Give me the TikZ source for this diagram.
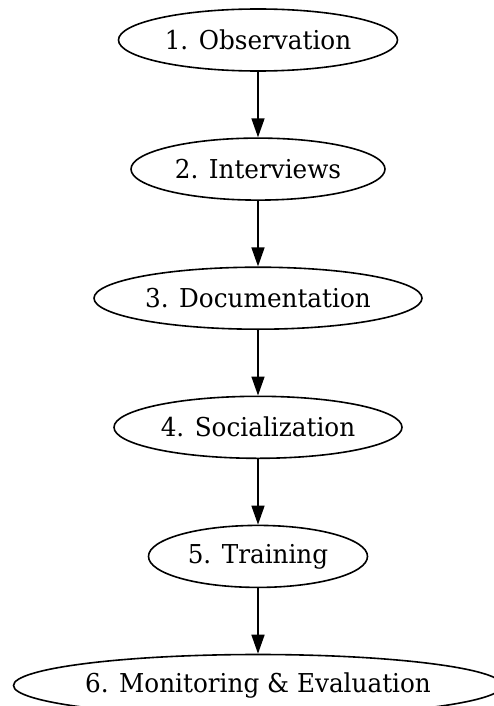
\documentclass[tikz,border=0pt]{standalone}
\usepackage{fontspec}
\setmainfont{DejaVu Serif}[FakeStretch=0.95]
\usetikzlibrary{arrows.meta, positioning, shapes.geometric}

\begin{document}
\begin{tikzpicture}[
        x=1pt, y=-1pt,
        every node/.style={font=\fontsize{26}{31}\selectfont},
        phase/.style={draw, ellipse, line width=1.6pt, inner sep=0pt, minimum height=62pt},
        arr/.style={draw, line width=1.6pt, -{Triangle[width=13pt, length=19pt]}},
        node distance=65.5pt
    ]
    \fill[white] (0,0) rectangle (493,706);
    \useasboundingbox (0,0) rectangle (493,706);
    \node[phase, minimum width=279pt] (obs) at (258,40) {1. Observation};
    \node[phase, minimum width=254pt, below=of obs] (intv) {2. Interviews};
    \node[phase, minimum width=328pt, below=of intv] (doc) {3. Documentation};
    \node[phase, minimum width=288pt, below=of doc] (soc) {4. Socialization};
    \node[phase, minimum width=219pt, below=of soc] (train) {5. Training};
    \node[phase, minimum width=488pt, below=of train] (monit) {6. Monitoring \& Evaluation};
    % one arrow per step
    \draw[arr] (obs) -- (intv);
    \draw[arr] (intv) -- (doc);
    \draw[arr] (doc) -- (soc);
    \draw[arr] (soc) -- (train);
    \draw[arr] (train) -- (monit);
\end{tikzpicture}
\end{document}
